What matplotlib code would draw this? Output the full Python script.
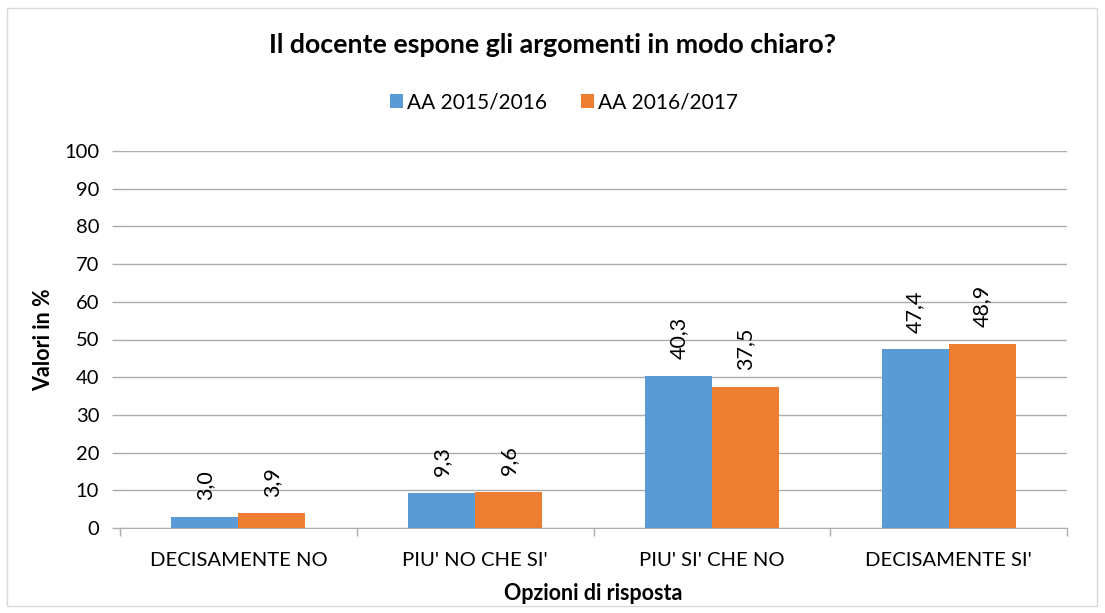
import matplotlib
matplotlib.use("Agg")
import matplotlib.pyplot as plt
import numpy as np
from matplotlib.patches import Rectangle

categories = ["DECISAMENTE NO", "PIU' NO CHE SI'", "PIU' SI' CHE NO", "DECISAMENTE SI'"]
series_names = ["AA 2015/2016", "AA 2016/2017"]
values_2015 = [3.0, 9.3, 40.3, 47.4]
values_2016 = [3.9, 9.6, 37.5, 48.9]
yticks = [0, 10, 20, 30, 40, 50, 60, 70, 80, 90, 100]

colors = ["#5B9BD5", "#ED7D31"]
plt.rcParams['font.family'] = ['Lato', 'DejaVu Sans']

fig = plt.figure(figsize=(11.05, 6.13), dpi=100)
ax = fig.add_axes([120/1105, 1-528/613, (1067-120)/1105, (528-151)/613])

# figure border
fig.patches.append(Rectangle((7/1105, 7/613), 1090/1105, 598/613, transform=fig.transFigure,
                             fill=False, edgecolor="#D9D9D9", linewidth=1))

x = np.arange(len(categories))
w = 0.283
b1 = ax.bar(x - w/2, values_2015, w, color=colors[0], label=series_names[0], zorder=3)
b2 = ax.bar(x + w/2, values_2016, w, color=colors[1], label=series_names[1], zorder=3)

for bars, vals in ((b1, values_2015), (b2, values_2016)):
    for r, v in zip(bars, vals):
        ax.annotate(f"{v:.1f}".replace(".", ","), (r.get_x() + r.get_width()/2, v),
                    xytext=(0, 12), textcoords="offset points", rotation=90,
                    ha="center", va="bottom", fontsize=15.5, color="#000000")

ax.set_xlim(-0.5, len(categories) - 0.5)
ax.set_ylim(0, 100)
ax.set_yticks(yticks)
ax.set_yticklabels([str(t) for t in yticks], fontsize=14.5)
ax.yaxis.grid(True, color="#ADADAD", linewidth=1, zorder=0)
ax.set_axisbelow(True)

ax.set_xticks(x)
ax.set_xticklabels(categories, fontsize=14.6)
ax.tick_params(axis="x", length=0, pad=17)
ax.set_xticks(np.arange(-0.5, len(categories)), minor=True)
ax.tick_params(axis="x", which="minor", length=6, color="#ADADAD", width=1)
ax.tick_params(axis="y", length=6, color="#ADADAD", width=1, pad=9)

for s in ["top", "right", "left"]:
    ax.spines[s].set_visible(False)
ax.spines["bottom"].set_color("#ADADAD")

ax.set_ylabel("Valori in %", fontsize=15.5, fontweight="bold", labelpad=7)
ax.set_xlabel("Opzioni di risposta", fontsize=15.5, fontweight="bold", labelpad=10)

fig.text(0.5, 1-45/613, "Il docente espone gli argomenti in modo chiaro?", ha="center", va="center",
         fontsize=19.3, fontweight="bold")

leg = fig.legend(handles=[b1, b2], labels=series_names, loc="center", bbox_to_anchor=(564/1105, 1-102/613),
                 ncol=2, frameon=False, fontsize=15, handlelength=0.65, handleheight=0.65,
                 handletextpad=0.2, columnspacing=1.6)

fig.savefig("out.png", dpi=100)
